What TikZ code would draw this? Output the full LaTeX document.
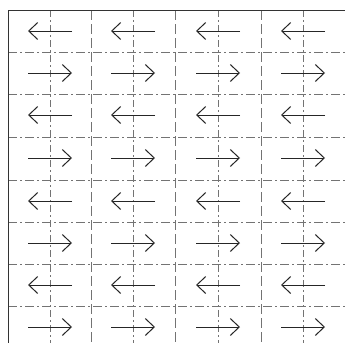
\documentclass[tikz,border=0pt]{standalone}
\usetikzlibrary{arrows.meta}
\begin{document}
\begin{tikzpicture}[x=1pt,y=-1pt,
  hline/.style={draw=black!55,line width=0.8pt,dash pattern=on 9pt off 3pt on 2pt off 3pt},
  vdash/.style={draw=black!55,line width=0.8pt,dash pattern=on 10pt off 4pt},
  vdot/.style={draw=black!55,line width=0.7pt,dash pattern=on 7pt off 3pt on 2pt off 3pt},
  border/.style={draw=black!80,line width=1pt},
  flow/.style={draw=black!85,line width=1pt,-{Straight Barb[length=9pt,width=17pt,line width=1pt]}}]
\useasboundingbox (0,0) rectangle (345,343);
\fill[white] (0,0) rectangle (345,343);
% horizontal dash-dot lines
\foreach \y in {52,94,137,180,222,264,306}{
  \coordinate (hl\y) at (8,\y); \coordinate (hr\y) at (345,\y);
  \draw[hline] (hl\y) -- (hr\y);
}
% vertical lines
\foreach \x in {91,175,261}{
  \coordinate (vt\x) at (\x,10); \coordinate (vb\x) at (\x,343);
  \draw[vdash] (vt\x) -- (vb\x);
}
\foreach \x in {50,133,218,303}{
  \coordinate (vt\x) at (\x,10); \coordinate (vb\x) at (\x,343);
  \draw[vdot] (vt\x) -- (vb\x);
}
% border
\coordinate (tl) at (8,10); \coordinate (tr) at (345,10); \coordinate (bl) at (8,343);
\draw[border] (tr) -- (tl) -- (bl);
% arrows
\foreach \r/\y in {1/31,2/73,3/115,4/158,5/201,6/243,7/285,8/327}{
  \foreach \c/\x in {1/50,2/133,3/218,4/303}{
    \coordinate (a\r\c) at (\x-22,\y);
    \coordinate (b\r\c) at (\x+22,\y);
    \ifodd\r
      \draw[flow] (b\r\c) -- (a\r\c);
    \else
      \draw[flow] (a\r\c) -- (b\r\c);
    \fi
  }
}
\end{tikzpicture}
\end{document}
